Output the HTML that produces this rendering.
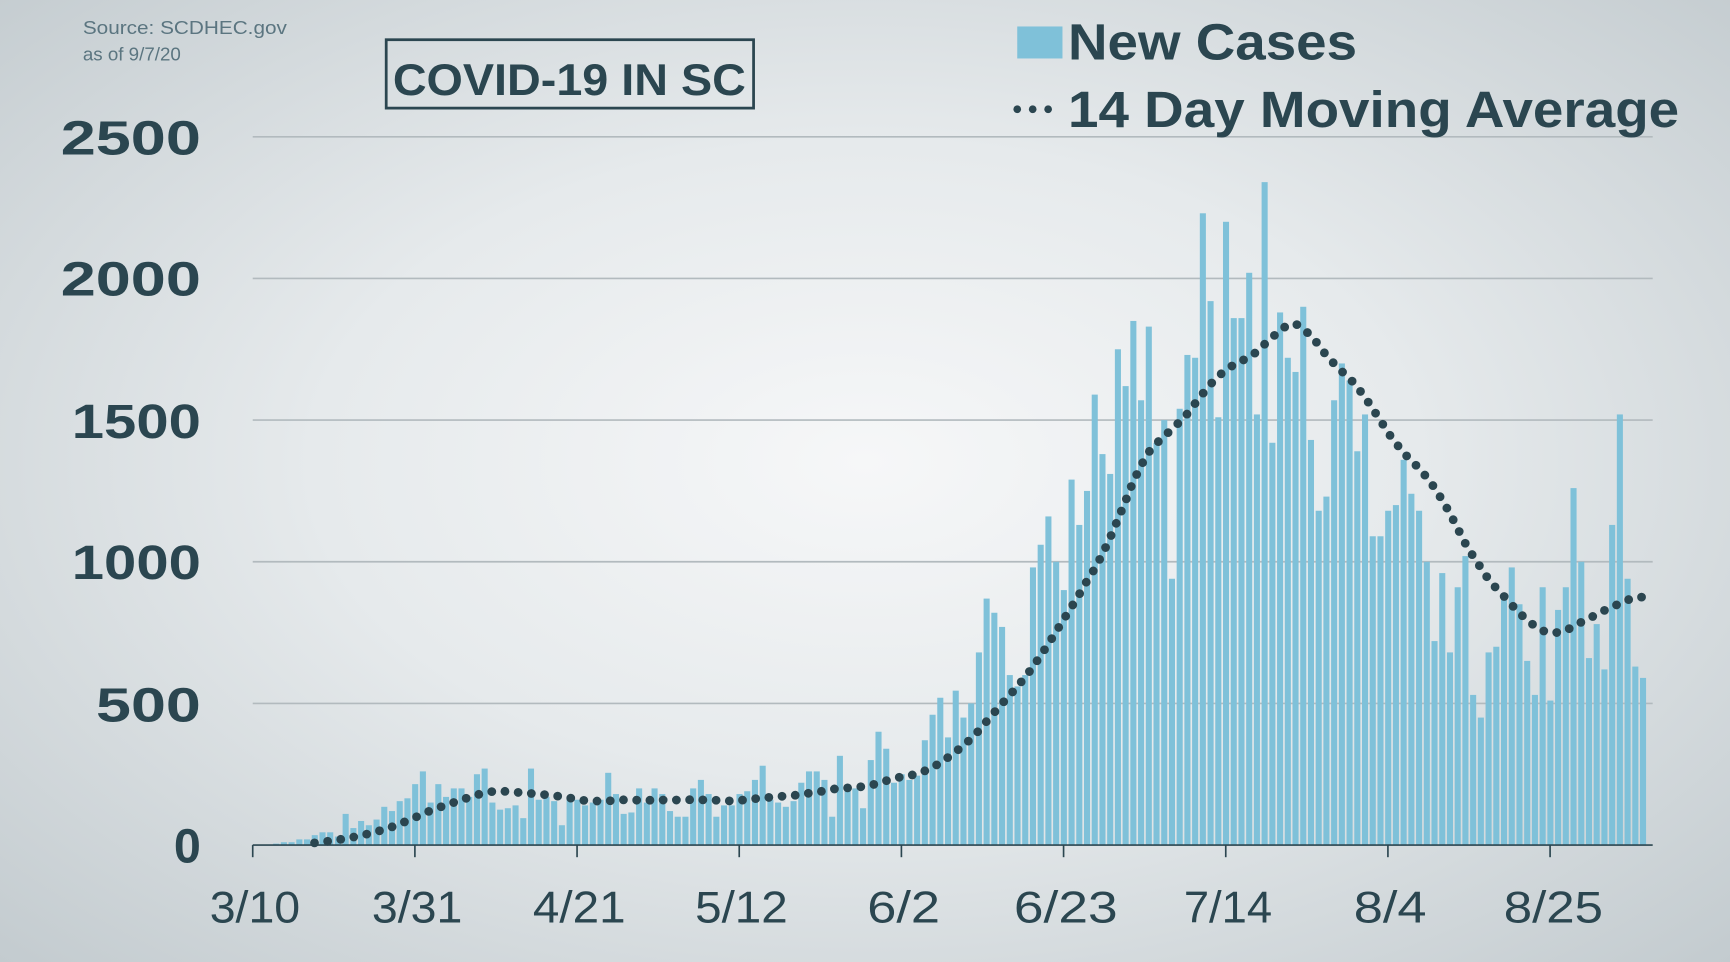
<!DOCTYPE html>
<html><head><meta charset="utf-8"><style>
html,body{margin:0;padding:0;width:1730px;height:962px;overflow:hidden}
body{background:radial-gradient(ellipse at 50% 48%,#f6f7f8 0%,#e6eaec 45%,#c3cbcf 100%)}
svg{display:block}
text{}
</style></head><body>
<svg id="s" width="1730" height="962" viewBox="0 0 1568 872" xmlns="http://www.w3.org/2000/svg" font-family="Liberation Sans, sans-serif">
<g stroke="#b2babe" stroke-width="1.5">
<line x1="229" y1="124" x2="1498" y2="124"/><line x1="229" y1="252.4" x2="1498" y2="252.4"/>
<line x1="229" y1="380.8" x2="1498" y2="380.8"/><line x1="229" y1="509.2" x2="1498" y2="509.2"/>
<line x1="229" y1="637.6" x2="1498" y2="637.6"/>
</g>
<g id="bars" fill="#7fc1d9"></g>
<line x1="229" y1="766" x2="1498" y2="766" stroke="#2b4650" stroke-width="1.5"/>
<g stroke="#2b4650" stroke-width="1.5">
<line x1="229" y1="766" x2="229" y2="777"/><line x1="376" y1="766" x2="376" y2="777"/><line x1="523" y1="766" x2="523" y2="777"/><line x1="670" y1="766" x2="670" y2="777"/><line x1="817" y1="766" x2="817" y2="777"/><line x1="964" y1="766" x2="964" y2="777"/><line x1="1111" y1="766" x2="1111" y2="777"/><line x1="1258" y1="766" x2="1258" y2="777"/><line x1="1405" y1="766" x2="1405" y2="777"/>
</g>
<path id="ma" fill="none" stroke="#2b4650" stroke-width="8" stroke-linecap="round" stroke-dasharray="0 12"/>
<g fill="#2b4650" font-weight="bold" font-size="44" text-anchor="end" lengthAdjust="spacingAndGlyphs">
<text x="182" y="140" textLength="127" lengthAdjust="spacingAndGlyphs">2500</text><text x="182" y="268" textLength="127" lengthAdjust="spacingAndGlyphs">2000</text><text x="182" y="397" textLength="117" lengthAdjust="spacingAndGlyphs">1500</text><text x="182" y="525" textLength="117" lengthAdjust="spacingAndGlyphs">1000</text><text x="182" y="654" textLength="95" lengthAdjust="spacingAndGlyphs">500</text><text x="182" y="782">0</text>
</g>
<g fill="#2b4650" font-size="40" text-anchor="middle">
<text x="231" y="836" textLength="82" lengthAdjust="spacingAndGlyphs">3/10</text><text x="378" y="836" textLength="82" lengthAdjust="spacingAndGlyphs">3/31</text><text x="525" y="836" textLength="84" lengthAdjust="spacingAndGlyphs">4/21</text><text x="672" y="836" textLength="84" lengthAdjust="spacingAndGlyphs">5/12</text><text x="819" y="836" textLength="66" lengthAdjust="spacingAndGlyphs">6/2</text><text x="966" y="836" textLength="94" lengthAdjust="spacingAndGlyphs">6/23</text><text x="1113" y="836" textLength="80" lengthAdjust="spacingAndGlyphs">7/14</text><text x="1260" y="836" textLength="66" lengthAdjust="spacingAndGlyphs">8/4</text><text x="1408" y="836" textLength="90" lengthAdjust="spacingAndGlyphs">8/25</text>
</g>
<text x="75" y="31" font-size="17" fill="#5b7580" textLength="185" lengthAdjust="spacingAndGlyphs">Source: SCDHEC.gov</text>
<text x="75" y="55" font-size="17" fill="#5b7580">as of 9/7/20</text>
<rect x="350" y="36" width="333" height="62" fill="none" stroke="#2b4650" stroke-width="2.5"/>
<text x="356" y="86" font-size="40" fill="#2b4650" font-weight="bold" textLength="320" lengthAdjust="spacingAndGlyphs">COVID-19 IN SC</text>
<rect x="922" y="24" width="41" height="29" fill="#7fc1d9"/>
<text x="968" y="54" font-size="46" fill="#2b4650" font-weight="bold" textLength="262" lengthAdjust="spacingAndGlyphs">New Cases</text>
<g fill="#2b4650"><circle cx="922" cy="99" r="3.5"/><circle cx="936" cy="99" r="3.5"/><circle cx="950" cy="99" r="3.5"/></g>
<text x="968" y="115" font-size="46" fill="#2b4650" font-weight="bold" textLength="554" lengthAdjust="spacingAndGlyphs">14 Day Moving Average</text>
</svg>
<script>
var d=[0,0,2,5,10,10,20,20,35,45,45,30,110,60,85,70,90,135,120,155,165,215,260,150,215,170,200,200,170,250,270,150,125,130,140,95,270,160,170,155,70,165,160,140,150,160,255,180,110,115,200,150,200,180,120,100,100,200,230,180,100,140,140,180,190,230,280,160,150,135,155,220,260,260,230,100,315,200,200,130,300,400,340,220,250,230,245,370,460,520,380,545,450,500,680,870,820,770,600,560,600,980,1060,1160,1000,900,1290,1130,1250,1590,1380,1310,1750,1620,1850,1570,1830,1420,1500,940,1540,1730,1720,2230,1920,1510,2200,1860,1860,2020,1520,2340,1420,1880,1720,1670,1900,1430,1180,1230,1570,1700,1640,1390,1520,1090,1090,1180,1200,1360,1240,1180,1000,720,960,680,910,1020,530,450,680,700,880,980,850,650,530,910,510,830,910,1260,1000,660,780,620,1130,1520,940,630,590];
var k=128.4/500,b='',p='';
for(var i=0;i<d.length;i++){var x=229+7*i,h=d[i]*k;b+='<rect x="'+(x-2.5)+'" y="'+(766-h)+'" width="5.5" height="'+h+'"/>';}
document.getElementById('bars').innerHTML=b;
var ma=[];
for(var i=0;i<d.length;i++){var s=0;for(var j=Math.max(0,i-13);j<=i;j++){s+=d[j];}ma.push(s/14);}
var sm=[];
for(var i=0;i<d.length;i++){var s=0,n=0;for(var j=i-2;j<=i+2;j++){if(j>=0&&j<d.length){s+=ma[j];n++;}}sm.push(s/n);}
for(var i=8;i<d.length;i++){p+=(i==8?'M':'L')+(229+7*i)+' '+(766-sm[i]*k).toFixed(1);}
document.getElementById('ma').setAttribute('d',p);
</script>
</body></html>
